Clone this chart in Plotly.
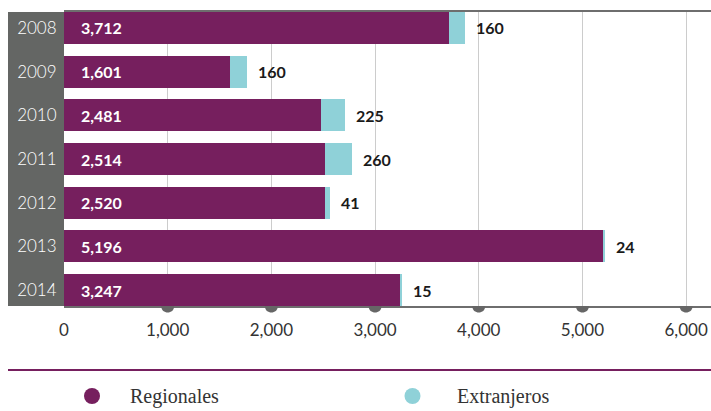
import plotly.graph_objects as go

years = ["2008", "2009", "2010", "2011", "2012", "2013", "2014"]
regionales = [3712, 1601, 2481, 2514, 2520, 5196, 3247]
extranjeros = [160, 160, 225, 260, 41, 24, 15]
x_ticks = [0, 1000, 2000, 3000, 4000, 5000, 6000]
series_names = ["Regionales", "Extranjeros"]

PURPLE = "#761f5e"
CYAN = "#8fd1d8"
BAND = "#646664"
W, H = 711, 411
ML, MR, MT, MB = 64, 0, 12, 105
PW = W - ML - MR
PH = H - MT - MB

fig = go.Figure()
fig.add_trace(go.Bar(y=years, x=regionales, orientation="h", name=series_names[0],
                     marker=dict(color=PURPLE, line=dict(width=0)), showlegend=False))
fig.add_trace(go.Bar(y=years, x=extranjeros, orientation="h", name=series_names[1],
                     marker=dict(color=CYAN, line=dict(width=0)), showlegend=False))

annotations = []
for i, (r, e) in enumerate(zip(regionales, extranjeros)):
    annotations.append(dict(x=0, y=i, xref="x", yref="y", text=f"{r:,}", showarrow=False,
                            xanchor="left", xshift=15,
                            font=dict(family="Lato", size=16, color="white", weight="bold")))
    annotations.append(dict(x=r + e, y=i, xref="x", yref="y", text=f"{e:,}", showarrow=False,
                            xanchor="left", xshift=9,
                            font=dict(family="Lato", size=16, color="#1a1a1a", weight="bold")))

def px_x(px):
    return (px - ML) / PW

def px_y(py):
    return (H - MB - py) / PH

shapes = [
    dict(type="rect", xref="paper", yref="paper", x0=px_x(8), x1=0, y0=0, y1=1,
         fillcolor=BAND, line=dict(width=0), layer="below"),
    dict(type="line", xref="paper", yref="paper", x0=px_x(8), x1=1, y0=px_y(370), y1=px_y(370),
         line=dict(color=PURPLE, width=2)),
]
for t in x_ticks[1:]:
    shapes.append(dict(type="path", xref="x", yref="paper", xsizemode="pixel", ysizemode="pixel",
                       xanchor=t, yanchor=0,
                       path="M -6.5,0 C -6.5,-8.7 6.5,-8.7 6.5,0 Z",
                       fillcolor="#666666", line=dict(width=0), layer="above"))

legend_pos = [(92, 128), (412.5, 455)]
legend_colors = [PURPLE, CYAN]
for (cx, tx), col, name in zip(legend_pos, legend_colors, series_names):
    shapes.append(dict(type="circle", xref="paper", yref="paper", xsizemode="pixel", ysizemode="pixel",
                       xanchor=px_x(cx), yanchor=px_y(396), x0=-8, x1=8, y0=-8, y1=8,
                       fillcolor=col, line=dict(width=0)))
    annotations.append(dict(x=px_x(tx), y=px_y(396), xref="paper", yref="paper", text=name,
                            showarrow=False, xanchor="left", yanchor="middle",
                            font=dict(family="Liberation Serif", size=20, color="#333333")))

fig.update_layout(
    width=W, height=H, margin=dict(l=ML, r=MR, t=MT, b=MB, pad=0),
    barmode="stack", bargap=0.27,
    paper_bgcolor="white", plot_bgcolor="white",
    xaxis=dict(range=[0, 6240], tickvals=x_ticks, tickformat=",",
               showgrid=True, gridcolor="#cccccc", gridwidth=1, zeroline=False,
               showline=True, linecolor="#6e6e6e", linewidth=2, mirror=True,
               ticks="outside", ticklen=8, tickcolor="rgba(0,0,0,0)",
               tickfont=dict(family="Lato", size=17, color="#333333")),
    yaxis=dict(type="category", categoryorder="array", categoryarray=years,
               range=[6.365, -0.365], showgrid=False, zeroline=False, showline=False,
               ticks="outside", ticklen=3, tickcolor="rgba(0,0,0,0)",
               tickfont=dict(family="Lato", size=17, color="white", weight=300)),
    shapes=shapes, annotations=annotations,
)

fig.write_html("out.html", config={"displayModeBar": False},
               post_script="document.body.style.margin='0';document.body.style.overflow='hidden';")
